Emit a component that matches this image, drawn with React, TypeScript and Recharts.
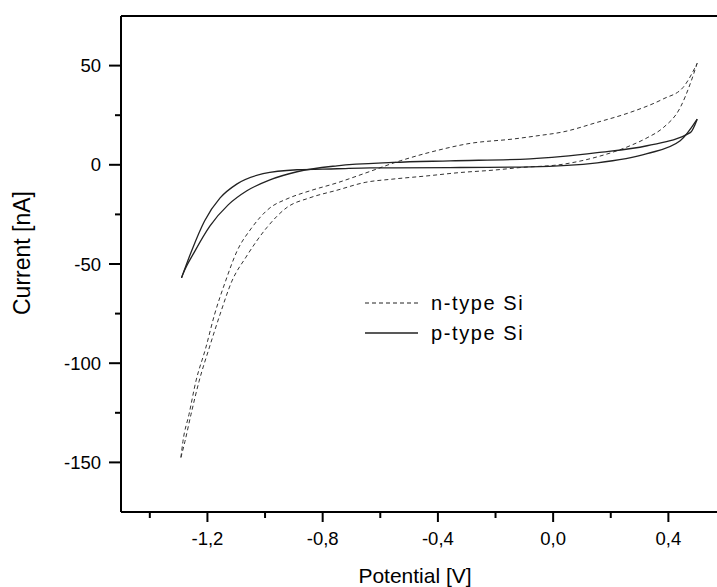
import { LineChart, Line, XAxis, YAxis, ReferenceLine, Legend } from "recharts";

// cyclic voltammograms, potential in V, current in nA
// every loop is split into its two scan branches, each listed with rising potential
const nUpperPotential = [
  -1.292, -1.285, -1.264, -1.24, -1.206, -1.175, -1.137, -1.097, -1.049, -0.983, -0.924, -0.844,
  -0.75, -0.66, -0.531, -0.417, -0.288, -0.139, -0.056, 0.035, 0.153, 0.267, 0.382, 0.451, 0.5,
];
const nUpperCurrent = [
  -147.5, -139.4, -125.8, -109.1, -92.4, -75.3, -58.6, -43.4, -32.3, -21.7, -17.2, -13.1,
  -9.1, -4.6, 2.0, 6.7, 10.8, 13.0, 14.6, 16.6, 21.4, 26.4, 33.2, 39.0, 51.2,
];
const nLowerPotential = [
  -1.292, -1.278, -1.257, -1.229, -1.194, -1.156, -1.115, -1.066, -0.993, -0.924, -0.844, -0.75,
  -0.65, -0.556, -0.438, -0.323, -0.208, -0.115, 0.035, 0.153, 0.267, 0.326, 0.382, 0.441, 0.476, 0.5,
];
const nLowerCurrent = [
  -147.5, -139.4, -125.8, -109.1, -92.4, -75.3, -58.6, -46.5, -31.5, -21.5, -16.6, -12.8,
  -8.8, -7.2, -5.6, -3.9, -2.7, -1.4, 0.3, 4.0, 9.6, 13.6, 18.7, 28.8, 40.9, 51.2,
];

const pOuterPotential = [
  -1.29, -1.255, -1.21, -1.156, -1.097, -1.007, -0.889, -0.75, -0.635, -0.556, -0.358, -0.08,
  0.153, 0.326, 0.441, 0.5,
];
const pOuterCurrent = [
  -57, -43.4, -28.3, -16.7, -9.6, -4.5, -2.5, -2.0, -1.5, -1.5, -1.4, -1.0,
  1.0, 5.6, 12.1, 23,
];
const pInnerPotential = [
  -1.29, -1.285, -1.243, -1.191, -1.128, -1.063, -0.983, -0.889, -0.75, -0.556, -0.358, -0.08,
  0.153, 0.326, 0.476, 0.5,
];
const pInnerCurrent = [
  -57, -55.1, -43.4, -30.8, -20.2, -13.1, -7.6, -3.5, -0.5, 1.2, 2.0, 3.0,
  6.1, 9.6, 16.2, 23,
];

const seriesNames = ["n-type Si", "p-type Si"];
const xTicks = [-1.4, -1.2, -1.0, -0.8, -0.6, -0.4, -0.2, 0, 0.2, 0.4];
const yTicks = [-150, -125, -100, -75, -50, -25, 0, 25, 50];

const FONT = '"Liberation Sans", Arial, sans-serif';
const X_TICK = 10;
const X_MARGIN = 10;
const Y_TICK = 12;
const Y_MARGIN = 8;
const DASH = "4 3";

const toPoints = (v: number[], i: number[]) => v.map((x, k) => ({ v: x, i: i[k] }));

const branches = [
  { key: "nUp", data: toPoints(nUpperPotential, nUpperCurrent), dashed: true },
  { key: "nLow", data: toPoints(nLowerPotential, nLowerCurrent), dashed: true },
  { key: "pOut", data: toPoints(pOuterPotential, pOuterCurrent), dashed: false },
  { key: "pIn", data: toPoints(pInnerPotential, pInnerCurrent), dashed: false },
];

const XTick = ({ x, y, payload }: any) => {
  const major = Math.round(payload.value * 10) % 4 === 0;
  const axisY = y - X_TICK - X_MARGIN;
  return (
    <g>
      <line x1={x} x2={x} y1={axisY} y2={axisY + (major ? X_TICK : 6)} stroke="#000" strokeWidth={2} />
      {major && (
        <text x={x} y={y} dy="0.71em" textAnchor="middle" fontFamily={FONT} fontSize={18.5} fill="#000">
          {payload.value.toFixed(1).replace(".", ",")}
        </text>
      )}
    </g>
  );
};

const YTick = ({ x, y, payload }: any) => {
  const major = payload.value % 50 === 0;
  const axisX = x + Y_TICK + Y_MARGIN;
  return (
    <g>
      <line x1={axisX - (major ? Y_TICK : 6)} x2={axisX} y1={y} y2={y} stroke="#000" strokeWidth={2} />
      {major && (
        <text x={x} y={y} dy="0.36em" textAnchor="end" fontFamily={FONT} fontSize={18.5} fill="#000">
          {payload.value}
        </text>
      )}
    </g>
  );
};

const LegendBox = () => (
  <svg width={220} height={60}>
    {seriesNames.map((name, k) => (
      <g key={name}>
        <line
          x1={5}
          x2={58}
          y1={13 + 30 * k}
          y2={13 + 30 * k}
          stroke="#222"
          strokeWidth={k === 0 ? 1 : 1.3}
          strokeDasharray={k === 0 ? DASH : undefined}
        />
        <text x={71} y={13 + 30 * k} dy="0.36em" fontFamily={FONT} fontSize={20} letterSpacing={1.6} fill="#000">
          {name}
        </text>
      </g>
    ))}
  </svg>
);

export default function App() {
  return (
    <div
      style={{
        position: "fixed",
        left: 0,
        top: 0,
        width: 717,
        height: 587,
        overflow: "hidden",
        background: "#fff",
      }}
    >
      <LineChart width={736} height={587} margin={{ top: 16, right: 10, left: 0, bottom: 0 }}>
        <XAxis
          type="number"
          dataKey="v"
          domain={[-1.5, 0.6]}
          allowDataOverflow
          ticks={xTicks}
          interval={0}
          height={75}
          tickSize={X_TICK}
          tickMargin={X_MARGIN}
          tickLine={false}
          tick={<XTick />}
          axisLine={{ stroke: "#000", strokeWidth: 2 }}
          label={{
            content: () => (
              <text x={415} y={583} textAnchor="middle" fontFamily={FONT} fontSize={21} fill="#000">
                Potential [V]
              </text>
            ),
          }}
        />
        <YAxis
          type="number"
          dataKey="i"
          domain={[-175, 75]}
          allowDataOverflow
          ticks={yTicks}
          interval={0}
          width={121}
          tickSize={Y_TICK}
          tickMargin={Y_MARGIN}
          tickLine={false}
          tick={<YTick />}
          axisLine={{ stroke: "#000", strokeWidth: 2 }}
          label={{
            content: () => (
              <text
                x={22}
                y={253}
                transform="rotate(-90 22 253)"
                textAnchor="middle"
                dominantBaseline="central"
                fontFamily={FONT}
                fontSize={23}
                fill="#000"
              >
                Current [nA]
              </text>
            ),
          }}
        />
        <ReferenceLine y={75} stroke="#000" strokeWidth={2} />
        <ReferenceLine x={0.6} stroke="#000" strokeWidth={2} />
        {branches.map((b) => (
          <Line
            key={b.key}
            name={b.dashed ? seriesNames[0] : seriesNames[1]}
            data={b.data}
            dataKey="i"
            type="monotoneX"
            stroke={b.dashed ? "#333" : "#222"}
            strokeWidth={b.dashed ? 1 : 1.3}
            strokeDasharray={b.dashed ? DASH : undefined}
            dot={false}
            activeDot={false}
            isAnimationActive={false}
          />
        ))}
        <Legend
          layout="horizontal"
          verticalAlign="middle"
          align="center"
          content={<LegendBox />}
          wrapperStyle={{ left: 360, top: 290, width: 220, height: 60 }}
        />
      </LineChart>
    </div>
  );
}
